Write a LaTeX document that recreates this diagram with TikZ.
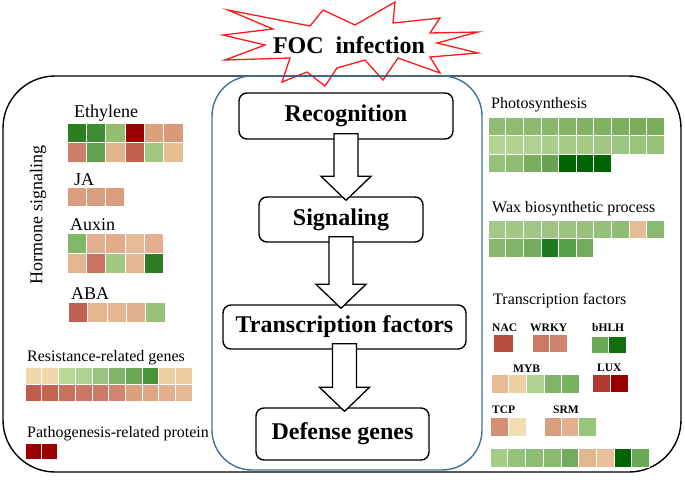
\documentclass[tikz,border=0pt]{standalone}
\usepackage{fontspec}
\setmainfont{Liberation Serif}
\usetikzlibrary{calc}
\definecolor{focRed}{HTML}{FF1A1A}
\definecolor{focBlue}{HTML}{41719C}
\tikzset{
  foc frame/.style={draw=black, line width=1.4pt, rounded corners=52pt},
  foc core/.style={draw=focBlue, line width=1.4pt, rounded corners=40pt},
  foc star/.style={draw=focRed, line width=1.3pt, fill=white, line join=miter},
  foc step/.style={draw=black, line width=1.4pt, rounded corners=8pt, fill=white,
    inner sep=0pt, font=\fontsize{24}{28}\selectfont\bfseries},
  foc arrow/.style={draw=black, line width=1.3pt, fill=white, line join=miter},
  foc label/.style={anchor=base west, inner sep=0pt, font=\fontsize{16}{18}\selectfont},
  foc hormone/.style={foc label, font=\fontsize{18}{20}\selectfont},
  foc tf/.style={foc label, font=\fontsize{11.5}{13}\selectfont\bfseries}
}
% x, y, cell width, cell height, colours
\newcommand\heatrow[5]{%
  \foreach \hc [count=\hi from 0] in {#5}{%
    \definecolor{heatcell}{HTML}{\hc}%
    \filldraw[fill=heatcell, draw=white, line width=0.5pt] (#1+\hi*#3,#2) rectangle ++(#3,#4);}}
\newcommand\flowarrow[2]{%
  \draw[foc arrow] let \p1=($(#1.south)+(0,-6)$), \p2=($(#2.north)+(0,4)$) in
    (\x1-12pt,\y1) -- (\x1+12pt,\y1) -- (\x1+12pt,\y2+24pt) -- (\x1+25pt,\y2+24pt)
    -- (\x1,\y2) -- (\x1-25pt,\y2+24pt) -- (\x1-12pt,\y2+24pt) -- cycle;}

\begin{document}
\begin{tikzpicture}[x=1pt,y=-1pt]
  \useasboundingbox (0,0) rectangle (685,485);
  % infection burst
  \draw[foc star] (228,10) -- (310,26) -- (323,10) -- (355,25) -- (395,2) -- (393,23)
    -- (440,18) -- (430,33) -- (478,32) -- (437,43) -- (478,53) -- (430,57) -- (440,73)
    -- (398,58) -- (383,80) -- (365,60) -- (337,68) -- (325,86) -- (307,72) -- (282,82)
    -- (290,58) -- (225,60) -- (265,45) -- (223,35) -- (273,29) -- cycle;
  \draw[foc frame] (3,76) rectangle (681,472);
  \draw[foc core] (212,76) rectangle (482,470);
  \node[anchor=base, inner sep=0pt, font=\fontsize{24}{28}\selectfont\bfseries] (foc) at (349,53) {FOC\ \ infection};

  % defence cascade
  \node[foc step, minimum width=214pt, minimum height=46pt] (recog) at (346,116) {Recognition};
  \node[foc step, minimum width=164pt, minimum height=45pt] (signal) at (341,219.5) {Signaling};
  \node[foc step, minimum width=243pt, minimum height=44pt] (tfac) at (344.5,327) {Transcription factors};
  \node[foc step, minimum width=173pt, minimum height=52pt] (defense) at (342.5,434) {Defense genes};
  \flowarrow{recog}{signal}
  \flowarrow{signal}{tfac}
  \flowarrow{tfac}{defense}

  % left panel
  \node[font=\fontsize{18}{20}\selectfont, rotate=90, inner sep=0pt] (hormone) at (38,215) {Hormone signaling};
  \node[foc hormone] (ethylene) at (74,117) {Ethylene};
  \heatrow{67}{123}{19.3}{19.5}{2E7D22,3F8C33,94BD72,9B0000,DBA07C,D89A7A}
  \heatrow{67}{142.5}{19.3}{19.5}{CC7E6A,62A050,E2B48E,C26050,A0C880,E5BE94}
  \node[foc hormone] (ja) at (74,185) {JA};
  \heatrow{67}{187}{19}{19}{D99E7E,D99E7E,D99E7E}
  \node[foc hormone] (auxin) at (70,230) {Auxin};
  \heatrow{67}{233}{19.3}{20}{80B868,E2B08E,E0AC8A,E6BC96,E2B08E}
  \heatrow{67}{253}{19.3}{20}{E4B690,C87460,A0C880,E4B892,2E7D22}
  \node[foc hormone] (aba) at (71,299) {ABA};
  \heatrow{68}{302}{19.4}{20}{C06050,E4B690,E4B690,E2B08E,98C078}
  \node[foc label] (resist) at (27,361) {Resistance-related genes};
  \heatrow{25}{367}{16.7}{17}{F0D8AC,F0D8AC,B8D898,AED090,98C480,80B468,6AA856,4C943C,EDCFA4,EBCBA0}
  \heatrow{25}{384}{16.7}{17}{C05C4C,C4644E,CA725E,CC7664,CE7A66,D28470,DCA080,DEA684,E2B08E,E6BA94}
  \node[foc label] (patho) at (27,437) {Pathogenesis-related protein};
  \heatrow{25}{443}{16}{16}{9B0000,9B0000}

  % right panel
  \node[foc label] (photo) at (491,108) {Photosynthesis};
  \heatrow{488}{117}{17.6}{18.5}{90BC74,8EBA72,8CB870,88B66C,84B468,82B266,80B264,7CB060,7AAE5E,78AE5C}
  \heatrow{488}{135.5}{17.6}{18.5}{B4D494,B2D292,AED090,AACE8C,A8CC8A,A4CA86,A0C884,9CC680,9AC47E,98C27C}
  \heatrow{488}{154}{17.6}{18.5}{98C27C,8EBC74,78AE5E,68A252,006400,006400,006400}
  \node[foc label] (wax) at (492,212) {Wax biosynthetic process};
  \heatrow{488}{220}{17.6}{18.5}{A4C888,A2C886,A0C684,9EC482,9CC480,98C27C,94C07A,8EBC74,E6BC96,88BA70}
  \heatrow{488}{238.5}{17.6}{18.5}{86B86C,80B468,72AC5C,1E7A1E,58A048,72AC5C}
  \node[foc label] (tflist) at (493,304) {Transcription factors};
  \node[foc tf] (nac) at (492,331) {NAC};
  \heatrow{493}{334}{20}{18}{B84A3E}
  \node[foc tf] (wrky) at (530,331) {WRKY};
  \heatrow{532}{334}{17.5}{18}{CC7A66,D08470}
  \node[foc tf] (bhlh) at (592,331) {bHLH};
  \heatrow{591}{336}{17.5}{17}{6AA856,107010}
  \node[foc tf] (myb) at (513,372) {MYB};
  \heatrow{491}{374}{17.6}{19}{E6BC96,EDD0A4,B0D290,80B468,7AB262}
  \node[foc tf] (lux) at (597,371) {LUX};
  \heatrow{592}{374}{18}{18}{B03A30,9B0000}
  \node[foc tf] (tcp) at (492,413) {TCP};
  \heatrow{490}{417}{18}{19}{D48E74,F2DEB2}
  \node[foc tf] (srm) at (553,413) {SRM};
  \heatrow{544}{417}{17.3}{19}{DA9E7E,E2B08E,98C47C}
  \heatrow{490}{448}{17.7}{19}{A6CC88,94C27A,8EBC74,8ABA70,72AC5C,E4B690,E8C09A,006400,6AAA56}
\end{tikzpicture}
\end{document}
